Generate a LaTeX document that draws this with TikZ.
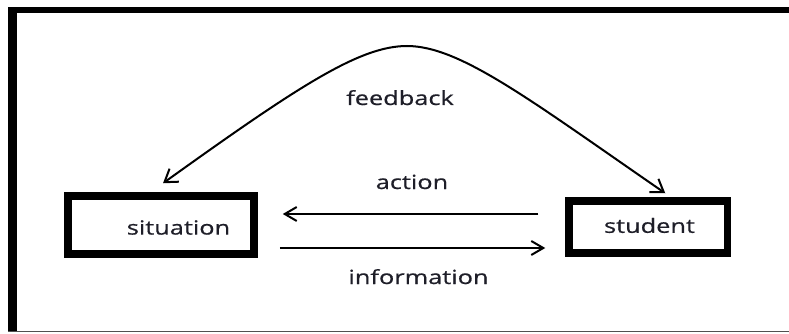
\documentclass[tikz,border=0pt]{standalone}
\usepackage{fontspec}
\newfontfamily\labfont[FakeStretch=1.3,FakeBold=0.6]{Open Sans}
\usetikzlibrary{arrows.meta}
\definecolor{txt}{RGB}{30,30,40}
\definecolor{frameline}{RGB}{80,80,80}
\tikzset{
  box/.style={draw=black, line width=7.5pt, inner sep=0pt, fill=white},
  lab/.style={font=\labfont\fontsize{19.5}{22}\selectfont, text=txt, inner sep=0pt, anchor=base},
  boxlab/.style={font=\labfont\fontsize{19.5}{22}\selectfont, text=txt, inner sep=0pt},
  arr/.style={line width=2pt, -{Straight Barb[length=12pt,width=14pt,line width=2pt]}},
  darr/.style={line width=2pt, {Straight Barb[length=12pt,width=16pt,line width=2pt]}-{Straight Barb[length=12pt,width=16pt,line width=2pt]}}
}
\begin{document}
\begin{tikzpicture}[x=1pt,y=-1pt]
\useasboundingbox (0,0) rectangle (789,334);
\fill[white] (0,0) rectangle (789,334);
% frame
\fill[black] (8,7) rectangle (789,13);
\fill[black] (8,7) rectangle (17,332);
\fill[frameline] (8,330.5) rectangle (789,332);
% boxes
\node[box, minimum width=186pt, minimum height=58pt,
  label={[boxlab, xshift=17.5pt, yshift=-2.5pt]center:situation}] (sit) at (161,225) {};
\node[box, minimum width=158.5pt, minimum height=52pt,
  label={[boxlab, xshift=1.25pt, yshift=1.5pt]center:student}] (stu) at (648.25,227) {};
% labels
\node[lab] (fb) at (400,105) {feedback};
\node[lab] (act) at (412,189) {action};
\node[lab] (inf) at (418.5,284) {information};
% connectors
\draw[arr, shorten <=27pt, shorten >=25pt] (stu.west |- 0,214) -- (sit.east |- 0,214);
\draw[arr, shorten <=22pt, shorten >=20pt] (sit.east |- 0,248) -- (stu.west |- 0,248);
\draw[darr] ([shift={(2,-9)}]sit.north) .. controls (300,85) and (360,46) .. (407,46)
  .. controls (460,46) and (530,100) .. ([shift={(17,-4)}]stu.north);
\end{tikzpicture}
\end{document}
